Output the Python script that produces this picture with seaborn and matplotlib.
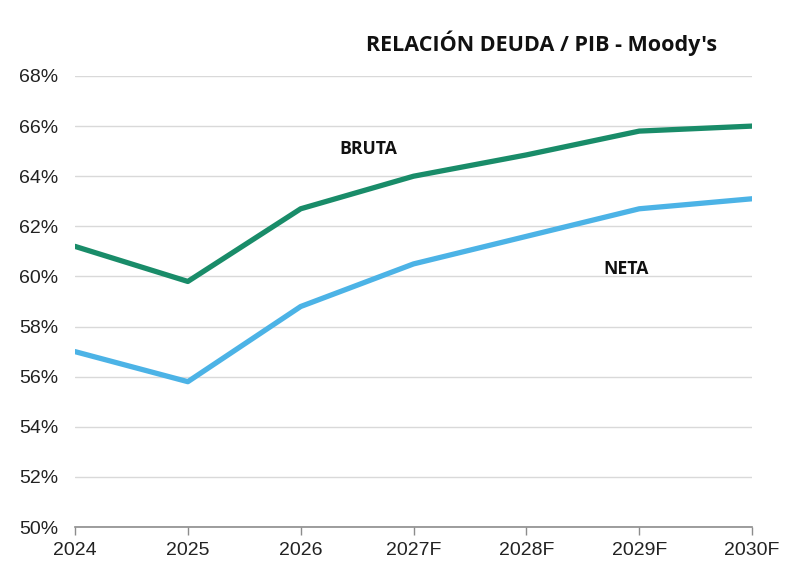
import pandas as pd
import seaborn as sns
import matplotlib.pyplot as plt
from matplotlib.ticker import FuncFormatter

# datos
years = ["2024", "2025", "2026", "2027F", "2028F", "2029F", "2030F"]
bruta = [61.2, 59.8, 62.7, 64.0, 64.85, 65.8, 66.0]
neta = [57.0, 55.8, 58.8, 60.5, 61.6, 62.7, 63.1]

df = pd.DataFrame({
    "year": years * 2,
    "value": bruta + neta,
    "serie": ["BRUTA"] * len(years) + ["NETA"] * len(years),
})

sns.set_theme(style="white")
plt.rcParams["font.family"] = ["Liberation Sans", "DejaVu Sans"]

fig = plt.figure(figsize=(7.91, 5.70), dpi=100)
ax = fig.add_axes([0.0948, 0.0754, 0.856, 0.7913])

sns.lineplot(
    data=df, x="year", y="value", hue="serie",
    palette={"BRUTA": "#198c69", "NETA": "#4cb3e6"},
    linewidth=3.8, legend=False, ax=ax,
)

ax.set_xlim(0, len(years) - 1)
ax.set_ylim(50, 68)
ax.set_yticks(range(50, 69, 2))
ax.yaxis.set_major_formatter(FuncFormatter(lambda v, _: f"{v:.0f}%"))
ax.grid(axis="y", color="#d9d9d9", linewidth=1)
ax.set_axisbelow(True)

for s in ["left", "right", "top"]:
    ax.spines[s].set_visible(False)
ax.spines["bottom"].set_color("#8c8c8c")
ax.spines["bottom"].set_linewidth(1.2)
ax.tick_params(axis="x", bottom=True, length=6, width=1, color="#8c8c8c",
               labelsize=14, labelcolor="#222222", pad=5)
ax.tick_params(axis="y", left=False, length=0, labelsize=14,
               labelcolor="#222222", pad=12)
ax.set_xlabel("")
ax.set_ylabel("")

ax.text(2.6, 65.1, "BRUTA", ha="center", va="center", fontsize=12.7,
        fontweight="bold", family=["Open Sans", "DejaVu Sans"], color="#111111")
ax.text(4.88, 60.3, "NETA", ha="center", va="center", fontsize=12.7,
        fontweight="bold", family=["Open Sans", "DejaVu Sans"], color="#111111")

fig.text(0.685, 0.925, "RELACIÓN DEUDA / PIB - Moody's", ha="center", va="center",
         fontsize=15.5, fontweight="bold", family=["Open Sans", "DejaVu Sans"],
         color="#111111")

fig.savefig("out.png", dpi=100)
